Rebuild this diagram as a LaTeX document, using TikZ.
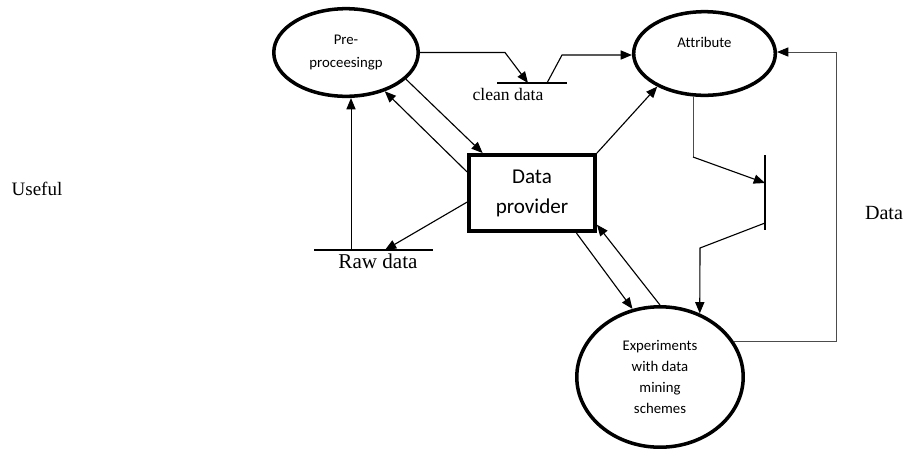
\documentclass[tikz,border=0pt]{standalone}
\usepackage{fontspec}
\setmainfont{Liberation Serif}
\newfontfamily\calibri{Carlito}[Ligatures=NoCommon]
\usetikzlibrary{arrows.meta, shapes.geometric}
\tikzset{
  proc/.style={ellipse, draw, line width=2.5pt, inner sep=0pt, align=center, font=\calibri\fontsize{10.5}{16}\selectfont},
  box/.style={rectangle, draw, line width=2.8pt, inner sep=0pt, align=center, font=\calibri\fontsize{15}{21.3}\selectfont},
  arrow/.style={-{Triangle[length=8pt, width=6.5pt, black]}, draw=black, line width=0.8pt},
  faint/.style={draw=black!70, line width=0.6pt},
  store/.style={draw, line width=1.1pt},
  note/.style={inner sep=0pt, font=\fontsize{#1}{#1}\selectfont},
  note/.default=14,
}

\begin{document}
\begin{tikzpicture}[x=0.025cm, y=-0.025cm]
  \useasboundingbox (0,0) rectangle (904,450);
  % processes and the provider
  \node[proc, minimum width=3.61cm, minimum height=2.19cm] (pre) at (346,52.5) {Pre-\\proceesingp};
  \node[proc, minimum width=3.54cm, minimum height=2.09cm] (attr) at (704.5,53.5) {Attribute\\\mbox{}};
  \node[proc, minimum width=4.16cm, minimum height=3.51cm, font=\calibri\fontsize{10.5}{15}\selectfont] (exp) at (660,377) {Experiments\\with data\\mining\\schemes};
  \node[box, minimum width=3.15cm, minimum height=1.9cm] (prov) at (532,193) {Data\\provider};
  % data stores
  \coordinate (cdl) at (497,83);  \coordinate (cdr) at (567,83);
  \coordinate (rdl) at (314,250); \coordinate (rdr) at (433,250);
  \coordinate (sttop) at (765,155); \coordinate (stbot) at (765,230);
  \draw[store] (cdl) -- (cdr);
  \draw[store] (rdl) -- (rdr);
  \draw[store] (sttop) -- (stbot);
  \node[note=12.5] (cdtext) at (508,94) {clean data};
  \node[note=15] (rdtext) at (378,261) {Raw data};
  \node[note=13.5] (useful) at (37,189) {Useful};
  \node[note=14.3] (datatext) at (884,213) {Data};
  % bend points
  \coordinate (cdbend) at (505,52);
  \coordinate (cdin) at (528,83);
  \coordinate (cdout) at (547,83);
  \coordinate (cdup) at (562,55);
  \coordinate (rdin) at (385,250);
  \coordinate (rdup) at (351,250);
  \coordinate (atdown) at (693,157);
  \coordinate (stin) at (765,183);
  \coordinate (stout) at (765,223);
  \coordinate (stbend) at (700,248);
  \coordinate (fbbot) at (836,341);
  \coordinate (fbtop) at (836,52);
  % flows
  \draw[arrow] (pre.east) -- (pre.east -| cdbend) -- (cdin);
  \draw[arrow] (cdout) -- (cdup) -- (cdup -| attr.west);
  \draw[arrow] (pre.-24) -- (prov.141);
  \draw[arrow] (prov.162) -- (pre.-45);
  \draw[arrow] (prov.188) -- (rdin);
  \draw[arrow, line width=0.7pt] (rdup) -- (rdup |- pre.south);
  \draw[arrow] (prov.north east) -- (attr.215);
  \draw[faint] (attr.south -| atdown) -- (atdown);
  \draw[arrow] (atdown) -- (stin);
  \draw[arrow] (stout) -- (stbend) -- (exp.58);
  \draw[arrow] (prov.-42) -- (exp.112);
  \draw[arrow] (exp.north) -- (prov.-26);
  \draw[arrow, faint] (exp.26) -- (exp.26 -| fbbot) -- (fbtop) -- (fbtop -| attr.east);
\end{tikzpicture}
\end{document}
